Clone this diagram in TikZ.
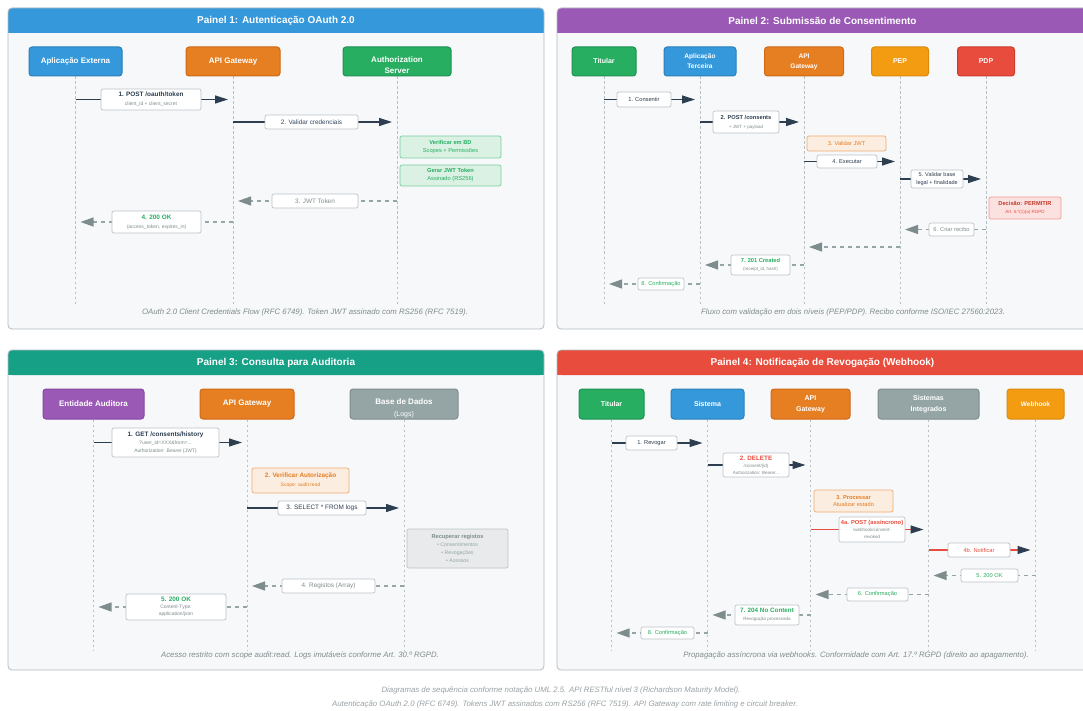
\documentclass[tikz,border=0pt]{standalone}
\usepackage{fontspec}
\setmainfont{Liberation Sans}
\usetikzlibrary{arrows.meta}

% palette
\definecolor{panelbg}{HTML}{F6F8FA}
\definecolor{panelline}{HTML}{B4BCC2}
\definecolor{ink}{HTML}{2C3E50}
\definecolor{ink2}{HTML}{34495E}
\definecolor{muted}{HTML}{7F8C8D}
\definecolor{soft}{HTML}{95A5A6}
\definecolor{boxline}{HTML}{BDC3C7}
\definecolor{lifeln}{HTML}{B8C0C5}
\definecolor{cblue}{HTML}{3498DB}\definecolor{cblueD}{HTML}{2A80B9}
\definecolor{corange}{HTML}{E67E22}\definecolor{corangeD}{HTML}{CF6A17}
\definecolor{cgreen}{HTML}{27AE60}\definecolor{cgreenD}{HTML}{1F9152}
\definecolor{cpurple}{HTML}{9B59B6}\definecolor{cpurpleD}{HTML}{8646A3}
\definecolor{cyellow}{HTML}{F39C12}\definecolor{cyellowD}{HTML}{DB8A0C}
\definecolor{cred}{HTML}{E74C3C}\definecolor{credD}{HTML}{CF3B2C}
\definecolor{cgray}{HTML}{95A5A6}\definecolor{cgrayD}{HTML}{7F8C8D}
\definecolor{cteal}{HTML}{16A085}
\definecolor{okgreen}{HTML}{27AE60}
\definecolor{warn}{HTML}{E67E22}
\definecolor{bad}{HTML}{E74C3C}
\definecolor{badD}{HTML}{C0392B}
\definecolor{footgray}{HTML}{9AA2A6}

% font sizes
\newcommand\aF{\fontsize{8}{11}\selectfont\bfseries}
\newcommand\aS{\fontsize{7}{11}\selectfont\bfseries}
\newcommand\aT{\fontsize{6.6}{10}\selectfont\bfseries}
\newcommand\mA{\fontsize{6.4}{9}\selectfont}
\newcommand\mB{\fontsize{5}{9}\selectfont}
\newcommand\nA{\fontsize{5.7}{8}\selectfont}
\newcommand\nB{\fontsize{4.5}{8}\selectfont}
% invisible strut that lowers a two-line label inside its box
\newcommand\lowstrut[1]{\rule{0pt}{#1pt}}

\pgfdeclarelayer{bg}
\pgfdeclarelayer{wires}
\pgfsetlayers{bg,wires,main}

% panel frame with coloured header band
\newcommand\drawpanel[7]{%
  \fill[panelbg, rounded corners=4pt] (#2,#3) rectangle (#4,#5);
  \fill[#6, rounded corners=4pt] (#2,#3) rectangle (#4,#3+25);
  \fill[#6] (#2,#3+12) rectangle (#4,#3+25);
  \draw[panelline, line width=0.8pt, rounded corners=4pt] (#2,#3) rectangle (#4,#5);
  \node[paneltitle] (#1) at ({(#2+#4)/2},#3+12.5) {#7};
}

\tikzset{
  paneltitle/.style={text=white, font=\fontsize{10}{12}\selectfont\bfseries, inner sep=0pt},
  wh/.style 2 args={minimum width=#1pt, minimum height=#2pt},
  actor/.style={rounded corners=3pt, line width=1pt, text=white, align=center, inner sep=0pt},
  msg/.style={draw=boxline, fill=white, rounded corners=2pt, line width=0.7pt, inner sep=0pt, align=center, text=ink},
  okbox/.style={draw=okgreen!60, fill=okgreen!17, rounded corners=2pt, line width=0.7pt, inner sep=0pt, align=center, text=okgreen},
  warnbox/.style={draw=warn!65, fill=warn!14, rounded corners=2pt, line width=0.7pt, inner sep=0pt, align=center, text=warn},
  nobox/.style={draw=bad!55, fill=bad!16, rounded corners=2pt, line width=0.7pt, inner sep=0pt, align=center, text=badD},
  dbbox/.style={draw=boxline, fill=boxline!35, rounded corners=2pt, line width=0.7pt, inner sep=0pt, align=center, text=muted},
  life/.style={draw=lifeln, line width=0.9pt, dash pattern=on 2.5pt off 2.5pt},
  call/.style={draw=ink, line width=1.2pt, -{Triangle[length=13pt,width=8pt,color=ink]}, shorten >=5pt},
  redcall/.style={draw=bad, line width=1.2pt, -{Triangle[length=13pt,width=8pt,color=ink]}, shorten >=5pt},
  reply/.style={draw=soft, line width=1.2pt, dash pattern=on 4pt off 4pt, -{Triangle[length=13pt,width=9pt,color=muted]}, shorten >=5pt},
  caption/.style={text=muted, font=\fontsize{7.8}{9}\selectfont\itshape, inner sep=0pt},
  footnote/.style={text=footgray, font=\fontsize{7.8}{9}\selectfont\itshape, inner sep=0pt}
}

\begin{document}
\begin{tikzpicture}[x=1pt,y=-1pt]
\useasboundingbox (0,0) rectangle (1083,711);

\begin{pgfonlayer}{bg}
  \fill[white] (0,0) rectangle (1083,711);
  \drawpanel{t1}{8}{8}{544}{329}{cblue}{Painel 1: Autenticação OAuth 2.0}
  \drawpanel{t2}{557}{8}{1088}{329}{cpurple}{Painel 2: Submissão de Consentimento}
  \drawpanel{t3}{8}{350}{544}{670}{cteal}{Painel 3: Consulta para Auditoria}
  \drawpanel{t4}{557}{350}{1088}{670}{cred}{Painel 4: Notificação de Revogação (Webhook)}
\end{pgfonlayer}

% ---------------- Panel 1: OAuth ----------------
\node[actor, fill=cblue, draw=cblueD, wh={93}{29}, font=\aF] (A1) at (75.5,61.5) {Aplicação Externa};
\node[actor, fill=corange, draw=corangeD, wh={94}{29}, font=\aF] (G1) at (233,61.5) {API Gateway};
\node[actor, fill=cgreen, draw=cgreenD, wh={108}{29}, font=\aF] (S1) at (397,61.5) {\lowstrut{13}Authorization\\Server};

\node[msg, wh={100}{21}, font=\mA] (m11) at (151,99.5)
  {{\bfseries 1. POST /oauth/token}\\{\mB\color{muted}client\_id + client\_secret}};
\node[msg, wh={93}{14}, font=\mA, text=ink2] (m12) at (311.5,122) {2. Validar credenciais};
\node[okbox, wh={101}{22}, font=\nA] (p11) at (450.5,147) {{\bfseries Verificar em BD}\\Scopes + Permissões};
\node[okbox, wh={101}{21}, font=\nA] (p12) at (450.5,175.5) {{\bfseries Gerar JWT Token}\\Assinado (RS256)};
\node[msg, wh={86}{14}, font=\mA, text=muted] (m13) at (315,201) {3. JWT Token};
\node[msg, wh={89}{22}, font=\mA] (m14) at (156.5,222)
  {{\bfseries\color{okgreen}4. 200 OK}\\{\mB\color{muted}(access\_token, expires\_in)}};
\node[caption] (c1) at (305,312) {OAuth 2.0 Client Credentials Flow (RFC 6749). Token JWT assinado com RS256 (RFC 7519).};

\coordinate (bot1) at (0,306);
\begin{pgfonlayer}{wires}
  \foreach \a in {A1,G1,S1} \draw[life] (\a.south) -- (\a |- bot1);
  \draw[call] (A1 |- m11) -- (G1 |- m11);
  \draw[call] (G1 |- m12) -- (S1 |- m12);
  \draw[reply] (S1 |- m13) -- (G1 |- m13);
  \draw[reply] (G1 |- m14) -- (A1 |- m14);
\end{pgfonlayer}

% ---------------- Panel 2: consent submission ----------------
\node[actor, fill=cgreen, draw=cgreenD, wh={64}{29}, font=\aS] (T2) at (604,61.5) {Titular};
\node[actor, fill=cblue, draw=cblueD, wh={72}{29}, font=\aT] (A2) at (700,61.5) {Aplicação\\Terceira};
\node[actor, fill=corange, draw=corangeD, wh={79}{29}, font=\aT] (G2) at (804,61.5) {API\\Gateway};
\node[actor, fill=cyellow, draw=cyellowD, wh={57}{29}, font=\aS] (P2) at (900,61.5) {PEP};
\node[actor, fill=cred, draw=credD, wh={57}{29}, font=\aS] (D2) at (986,61.5) {PDP};

\node[msg, wh={54}{15}, font=\nA] (m21) at (644,99.5) {1. Consentir};
\node[msg, wh={66}{22}, font=\fontsize{5.7}{9}\selectfont] (m22) at (746,122)
  {{\bfseries 2. POST /consents}\\{\nB\color{muted}+ JWT + payload}};
\node[warnbox, wh={79}{15}, font=\nA] (p21) at (846.5,143.5) {3. Validar JWT};
\node[msg, wh={60}{13}, font=\nA] (m24) at (847,161.5) {4. Executar};
\node[msg, wh={52}{18}, font=\fontsize{5.5}{7.3}\selectfont] (m25) at (937,179) {5. Validar base\\legal + finalidade};
\node[nobox, wh={72}{22}, font=\fontsize{5.7}{7.5}\selectfont] (p22) at (1025,208)
  {{\bfseries Decisão: PERMITIR}\\{\nB\color{bad}Art. 6.º(1)(a) RGPD}};
\node[msg, wh={45}{13}, font=\nA, text=muted] (m26) at (951.5,229.5) {6. Criar recibo};
\coordinate (r2) at (0,247);
\node[msg, wh={59}{20}, font=\fontsize{5.7}{8.3}\selectfont] (m27) at (760.5,265)
  {{\bfseries\color{okgreen}7. 201 Created}\\{\nB\color{muted}(receipt\_id, hash)}};
\node[msg, wh={46}{12}, font=\nA, text=okgreen] (m28) at (661,284) {8. Confirmação};
\node[caption] (c2) at (853,312) {Fluxo com validação em dois níveis (PEP/PDP). Recibo conforme ISO/IEC 27560:2023.};

\begin{pgfonlayer}{wires}
  \foreach \a in {T2,A2,G2,P2,D2} \draw[life] (\a.south) -- (\a |- bot1);
  \draw[call] (T2 |- m21) -- (A2 |- m21);
  \draw[call] (A2 |- m22) -- (G2 |- m22);
  \draw[call] (G2 |- m24) -- (P2 |- m24);
  \draw[call] (P2 |- m25) -- (D2 |- m25);
  \draw[reply] (D2 |- m26) -- (P2 |- m26);
  \draw[reply] (P2 |- r2) -- (G2 |- r2);
  \draw[reply] (G2 |- m27) -- (A2 |- m27);
  \draw[reply] (A2 |- m28) -- (T2 |- m28);
\end{pgfonlayer}

% ---------------- Panel 3: audit query ----------------
\node[actor, fill=cpurple, draw=cpurpleD, wh={101}{30}, font=\aF] (E3) at (93.5,404) {Entidade Auditora};
\node[actor, fill=corange, draw=corangeD, wh={94}{30}, font=\aF] (G3) at (247,404) {API Gateway};
\node[actor, fill=cgray, draw=cgrayD, wh={108}{30}, font=\fontsize{8}{12.5}\selectfont] (B3) at (404,404)
  {{\lowstrut{14.5}\bfseries Base de Dados}\\{\fontsize{7}{9}\selectfont(Logs)}};

\node[msg, wh={107}{29}, font=\fontsize{6.4}{8}\selectfont] (m31) at (165.5,442.5)
  {{\bfseries 1. GET /consents/history}\\{\mB\color{muted}?user\_id=XXX\&from=...}\\{\mB\color{muted}Authorization: Bearer \{JWT\}}};
\node[warnbox, wh={97}{25}, font=\fontsize{6.4}{8.7}\selectfont] (p31) at (300.5,480.5)
  {{\bfseries 2. Verificar Autorização}\\{\mB Scope: audit:read}};
\node[msg, wh={88}{14}, font=\mA] (m33) at (322,508) {3. SELECT * FROM logs};
\node[dbbox, wh={101}{39}, font=\fontsize{5.7}{8.3}\selectfont] (p32) at (457.5,548.5)
  {{\bfseries Recuperar registos}\\{\fontsize{5.2}{8}\selectfont\color{soft}• Consentimentos}\\{\fontsize{5.2}{8}\selectfont\color{soft}• Revogações}\\{\fontsize{5.2}{8}\selectfont\color{soft}• Acessos}};
\node[msg, wh={93}{14}, font=\mA, text=muted] (m34) at (328.5,586) {4. Registos (Array)};
\node[msg, wh={100}{26}, font=\fontsize{6.4}{7}\selectfont] (m35) at (176,607)
  {{\bfseries\color{okgreen}5. 200 OK}\\{\mB\color{muted}Content-Type:}\\{\mB\color{muted}application/json}};
\node[caption] (c3) at (300,655) {Acesso restrito com scope audit:read. Logs imutáveis conforme Art. 30.º RGPD.};

\coordinate (bot3) at (0,650);
\begin{pgfonlayer}{wires}
  \foreach \a in {E3,G3,B3} \draw[life] (\a.south) -- (\a |- bot3);
  \draw[call] (E3 |- m31) -- (G3 |- m31);
  \draw[call] (G3 |- m33) -- (B3 |- m33);
  \draw[reply] (B3 |- m34) -- (G3 |- m34);
  \draw[reply] (G3 |- m35) -- (E3 |- m35);
\end{pgfonlayer}

% ---------------- Panel 4: revocation webhook ----------------
\node[actor, fill=cgreen, draw=cgreenD, wh={65}{30}, font=\aS] (T4) at (611.5,404) {Titular};
\node[actor, fill=cblue, draw=cblueD, wh={73}{30}, font=\aS] (S4) at (707.5,404) {Sistema};
\node[actor, fill=corange, draw=corangeD, wh={79}{30}, font=\aS] (G4) at (810.5,404) {API\\Gateway};
\node[actor, fill=cgray, draw=cgrayD, wh={101}{30}, font=\aS] (I4) at (928.5,404) {Sistemas\\Integrados};
\node[actor, fill=cyellow, draw=cyellowD, wh={57}{30}, font=\fontsize{6.5}{10}\selectfont\bfseries] (W4) at (1035.5,404) {Webhook};

\node[msg, wh={51}{14}, font=\nA] (m41) at (651.5,443) {1. Revogar};
\node[msg, wh={66}{24}, font=\fontsize{6.3}{7}\selectfont] (m42) at (756,465)
  {{\bfseries\color{bad}2. DELETE}\\{\nB\color{muted}/consent/\{id\}}\\{\nB\color{muted}Authorization: Bearer...}};
\node[warnbox, wh={79}{22}, font=\fontsize{5.7}{7.5}\selectfont] (p41) at (853.5,501)
  {{\bfseries 3. Processar}\\Atualizar estado};
\node[msg, wh={66}{25}, font=\fontsize{5.8}{7}\selectfont] (m44a) at (872,529.5)
  {{\bfseries\color{bad}4a. POST (assíncrono)}\\{\nB\color{muted}/webhook/consent-}\\{\nB\color{muted}revoked}};
\node[msg, wh={62}{14}, font=\nA, text=bad] (m44b) at (979,550) {4b. Notificar};
\node[msg, wh={57}{13}, font=\nA, text=okgreen] (m45) at (989.5,575.5) {5. 200 OK};
\node[msg, wh={61}{13}, font=\nA, text=okgreen] (m46) at (877.5,594.5) {6. Confirmação};
\node[msg, wh={64}{20}, font=\fontsize{6.3}{8.5}\selectfont] (m47) at (767,615)
  {{\bfseries\color{okgreen}7. 204 No Content}\\{\nB\color{muted}Revogação processada}};
\node[msg, wh={53}{12}, font=\nA, text=okgreen] (m48) at (667.5,633) {8. Confirmação};
\node[caption] (c4) at (856,655) {Propagação assíncrona via webhooks. Conformidade com Art. 17.º RGPD (direito ao apagamento).};

\begin{pgfonlayer}{wires}
  \foreach \a in {T4,S4,G4,I4,W4} \draw[life] (\a.south) -- (\a |- bot3);
  \draw[call] (T4 |- m41) -- (S4 |- m41);
  \draw[call] (S4 |- m42) -- (G4 |- m42);
  \draw[redcall] (G4 |- m44a) -- (I4 |- m44a);
  \draw[redcall] (I4 |- m44b) -- (W4 |- m44b);
  \draw[reply] (W4 |- m45) -- (I4 |- m45);
  \draw[reply] (I4 |- m46) -- (G4 |- m46);
  \draw[reply] (G4 |- m47) -- (S4 |- m47);
  \draw[reply] (S4 |- m48) -- (T4 |- m48);
\end{pgfonlayer}

% ---------------- footer ----------------
\node[footnote] (f1) at (561,690) {Diagramas de sequência conforme notação UML 2.5. API RESTful nível 3 (Richardson Maturity Model).};
\node[footnote] (f2) at (565,704) {Autenticação OAuth 2.0 (RFC 6749). Tokens JWT assinados com RS256 (RFC 7519). API Gateway com rate limiting e circuit breaker.};
\end{tikzpicture}
\end{document}
